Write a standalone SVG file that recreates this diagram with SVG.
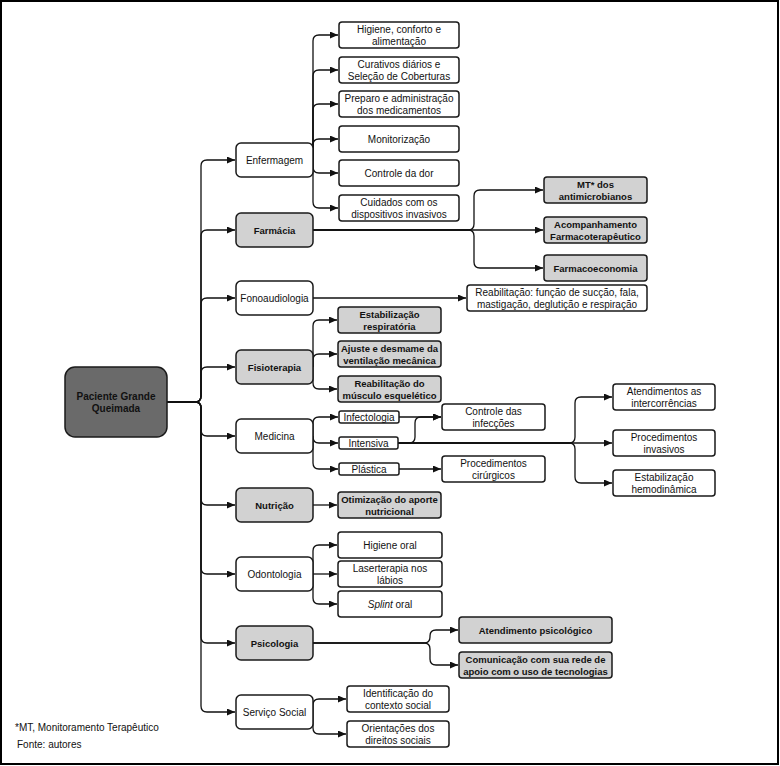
<svg xmlns="http://www.w3.org/2000/svg" width="780" height="766" viewBox="0 0 780 766">
<defs>
<marker id="ah" markerWidth="8" markerHeight="7" refX="8" refY="3.5" orient="auto" markerUnits="userSpaceOnUse">
<path d="M0,0 L8,3.5 L0,7 z" fill="#111"/>
</marker>
<style>
.w{fill:#fff;stroke:#1a1a1a;stroke-width:1.5}
.g{fill:#d2d2d2;stroke:#1a1a1a;stroke-width:1.5}
.r{fill:#6a6a6a;stroke:#1a1a1a;stroke-width:1.5}
text{font-family:"Liberation Sans",Arial,sans-serif;font-size:10px;fill:#111;text-anchor:middle}
.b{font-weight:bold;font-size:9.5px}
.rb{font-weight:bold;font-size:10px}
.l{text-anchor:start}
.c path{fill:none;stroke:#111;stroke-width:1.3;marker-end:url(#ah)}
</style>
</defs>
<rect x="0" y="0" width="780" height="766" fill="#fff"/>
<rect x="1" y="1" width="777" height="763" fill="none" stroke="#000" stroke-width="2"/>

<g id="connectors" class="c">
<!-- trunk -->
<path d="M167,402 H195 Q201,402 201,396 V166 Q201,160 207,160 H235"/>
<path d="M167,402 H195 Q201,402 201,396 V236 Q201,230 207,230 H235"/>
<path d="M167,402 H195 Q201,402 201,396 V304 Q201,298 207,298 H235"/>
<path d="M167,402 H195 Q201,402 201,396 V373 Q201,367 207,367 H235"/>
<path d="M167,402 H195 Q201,402 201,408 V430 Q201,436 207,436 H235"/>
<path d="M167,402 H195 Q201,402 201,408 V499 Q201,505 207,505 H235"/>
<path d="M167,402 H195 Q201,402 201,408 V568 Q201,574 207,574 H235"/>
<path d="M167,402 H195 Q201,402 201,408 V637 Q201,643 207,643 H235"/>
<path d="M167,402 H195 Q201,402 201,408 V706 Q201,712 207,712 H235"/>
<!-- Enfermagem -->
<path d="M313,160 V41 Q313,35 319,35 H338"/>
<path d="M313,160 V76 Q313,70 319,70 H338"/>
<path d="M313,160 V110 Q313,104 319,104 H338"/>
<path d="M313,160 V145 Q313,139 319,139 H338"/>
<path d="M313,160 V167 Q313,173 319,173 H338"/>
<path d="M313,160 V202 Q313,208 319,208 H338"/>
<!-- Farmacia -->
<path d="M313,230 H468 Q474,230 474,224 V196 Q474,190 480,190 H543"/>
<path d="M313,230 H543"/>
<path d="M313,230 H468 Q474,230 474,236 V262 Q474,268 480,268 H543"/>
<!-- Fono -->
<path d="M313,298 H466"/>
<!-- Fisio -->
<path d="M313,367 V326 Q313,320 319,320 H337"/>
<path d="M313,367 V360 Q313,354 319,354 H337"/>
<path d="M313,367 V383 Q313,389 319,389 H337"/>
<!-- Medicina -->
<path d="M313,436 V423 Q313,417 319,417 H338"/>
<path d="M313,436 V437 Q313,443 319,443 H338"/>
<path d="M313,436 V463 Q313,469 319,469 H338"/>
<path d="M399,417 H441"/>
<path d="M398,443 H409 Q415,443 415,437 V423 Q415,417 421,417 H441"/>
<path d="M398,443 H569 Q575,443 575,437 V403 Q575,397 581,397 H612"/>
<path d="M398,443 H612"/>
<path d="M398,443 H569 Q575,443 575,449 V477 Q575,483 581,483 H612"/>
<path d="M399,469 H441"/>
<!-- Nutricao -->
<path d="M313,505 H337"/>
<!-- Odontologia -->
<path d="M313,574 V551 Q313,545 319,545 H337"/>
<path d="M313,574 H337"/>
<path d="M313,574 V598 Q313,604 319,604 H337"/>
<!-- Psicologia -->
<path d="M313,643 H424 Q430,643 430,637 V636 Q430,630 436,630 H458"/>
<path d="M313,643 H424 Q430,643 430,649 V659 Q430,665 436,665 H458"/>
<!-- Servico Social -->
<path d="M313,712 V705 Q313,699 319,699 H346"/>
<path d="M313,712 V728 Q313,734 319,734 H346"/>
</g>

<g id="root"><rect class="r" x="65" y="367" width="102" height="70" rx="10"/><text class="rb" x="116" y="400">Paciente Grande</text><text class="rb" x="116" y="412">Queimada</text></g>

<g id="enfermagem"><rect class="w" x="236" y="143" width="77" height="34" rx="5"/><text x="274.5" y="163.5">Enfermagem</text></g>
<g id="farmacia"><rect class="g" x="236" y="213" width="77" height="34" rx="5"/><text class="b" x="274.5" y="233.5">Farmácia</text></g>
<g id="fonoaudiologia"><rect class="w" x="236" y="281" width="77" height="34" rx="5"/><text x="274.5" y="301.5">Fonoaudiologia</text></g>
<g id="fisioterapia"><rect class="g" x="236" y="350" width="77" height="34" rx="5"/><text class="b" x="274.5" y="370.5">Fisioterapia</text></g>
<g id="medicina"><rect class="w" x="236" y="419" width="77" height="34" rx="5"/><text x="274.5" y="439.5">Medicina</text></g>
<g id="nutricao"><rect class="g" x="236" y="488" width="77" height="34" rx="5"/><text class="b" x="274.5" y="508.5">Nutrição</text></g>
<g id="odontologia"><rect class="w" x="236" y="557" width="77" height="34" rx="5"/><text x="274.5" y="577.5">Odontologia</text></g>
<g id="psicologia"><rect class="g" x="236" y="626" width="77" height="34" rx="5"/><text class="b" x="274.5" y="646.5">Psicologia</text></g>
<g id="servico-social"><rect class="w" x="236" y="695" width="77" height="34" rx="5"/><text x="274.5" y="715.5">Serviço Social</text></g>

<g id="higiene"><rect class="w" x="339" y="22" width="120" height="26" rx="3"/><text x="399" y="33">Higiene, conforto e</text><text x="399" y="45">alimentação</text></g>
<g id="curativos"><rect class="w" x="339" y="57" width="120" height="26" rx="3"/><text x="399" y="68">Curativos diários e</text><text x="399" y="80">Seleção de Coberturas</text></g>
<g id="preparo"><rect class="w" x="339" y="91" width="120" height="26" rx="3"/><text x="399" y="102">Preparo e administração</text><text x="399" y="114">dos medicamentos</text></g>
<g id="monitorizacao"><rect class="w" x="339" y="126" width="120" height="26" rx="3"/><text x="399" y="142.5">Monitorização</text></g>
<g id="controle-dor"><rect class="w" x="339" y="160" width="120" height="26" rx="3"/><text x="399" y="176.5">Controle da dor</text></g>
<g id="cuidados"><rect class="w" x="339" y="195" width="120" height="26" rx="3"/><text x="399" y="206">Cuidados com os</text><text x="399" y="218">dispositivos invasivos</text></g>

<g id="mt-antimicrobianos"><rect class="g" x="544" y="177" width="103" height="26" rx="3"/><text class="b" x="595.5" y="188">MT* dos</text><text class="b" x="595.5" y="200">antimicrobianos</text></g>
<g id="acompanhamento"><rect class="g" x="544" y="217" width="103" height="26" rx="3"/><text class="b" x="595.5" y="228">Acompanhamento</text><text class="b" x="595.5" y="240">Farmacoterapêutico</text></g>
<g id="farmacoeconomia"><rect class="g" x="544" y="255" width="103" height="26" rx="3"/><text class="b" x="595.5" y="271.5">Farmacoeconomia</text></g>

<g id="reabilitacao-fono"><rect class="w" x="467" y="285" width="180" height="26" rx="3"/><text x="557" y="296">Reabilitação: função de sucção, fala,</text><text x="557" y="308">mastigação, deglutição e respiração</text></g>

<g id="estabilizacao-resp"><rect class="g" x="338" y="307" width="103" height="26" rx="3"/><text class="b" x="389.5" y="318">Estabilização</text><text class="b" x="389.5" y="330">respiratória</text></g>
<g id="ajuste"><rect class="g" x="338" y="341" width="103" height="26" rx="3"/><text class="b" x="389.5" y="352">Ajuste e desmame da</text><text class="b" x="389.5" y="364">ventilação mecânica</text></g>
<g id="reabilitacao-musc"><rect class="g" x="338" y="376" width="103" height="26" rx="3"/><text class="b" x="389.5" y="387">Reabilitação do</text><text class="b" x="389.5" y="399">músculo esquelético</text></g>

<g id="infectologia"><rect class="w" x="339" y="411" width="60" height="12" rx="2"/><text x="369" y="420.5">Infectologia</text></g>
<g id="intensiva"><rect class="w" x="339" y="437" width="59" height="12" rx="2"/><text x="368.5" y="446.5">Intensiva</text></g>
<g id="plastica"><rect class="w" x="339" y="463" width="60" height="12" rx="2"/><text x="369" y="472.5">Plástica</text></g>

<g id="controle-infeccoes"><rect class="w" x="442" y="404" width="103" height="26" rx="3"/><text x="493.5" y="415">Controle das</text><text x="493.5" y="427">infecções</text></g>
<g id="proc-cirurgicos"><rect class="w" x="442" y="456" width="103" height="26" rx="3"/><text x="493.5" y="467">Procedimentos</text><text x="493.5" y="479">cirúrgicos</text></g>

<g id="atendimentos"><rect class="w" x="613" y="384" width="102" height="26" rx="3"/><text x="664" y="395">Atendimentos as</text><text x="664" y="407">intercorrências</text></g>
<g id="proc-invasivos"><rect class="w" x="613" y="430" width="102" height="26" rx="3"/><text x="664" y="441">Procedimentos</text><text x="664" y="453">invasivos</text></g>
<g id="estabilizacao-hemo"><rect class="w" x="613" y="470" width="102" height="26" rx="3"/><text x="664" y="481">Estabilização</text><text x="664" y="493">hemodinâmica</text></g>

<g id="otimizacao"><rect class="g" x="338" y="492" width="103" height="26" rx="3"/><text class="b" x="389.5" y="503">Otimização do aporte</text><text class="b" x="389.5" y="515">nutricional</text></g>

<g id="higiene-oral"><rect class="w" x="338" y="532" width="104" height="26" rx="3"/><text x="390" y="548.5">Higiene oral</text></g>
<g id="laserterapia"><rect class="w" x="338" y="561" width="104" height="26" rx="3"/><text x="390" y="572">Laserterapia nos</text><text x="390" y="584">lábios</text></g>
<g id="splint"><rect class="w" x="338" y="591" width="104" height="26" rx="3"/><text x="390" y="607.5"><tspan font-style="italic">Splint</tspan> oral</text></g>

<g id="atendimento-psico"><rect class="g" x="459" y="617" width="153" height="26" rx="3"/><text class="b" x="535.5" y="633.5">Atendimento psicológico</text></g>
<g id="comunicacao"><rect class="g" x="459" y="652" width="153" height="26" rx="3"/><text class="b" x="535.5" y="663">Comunicação com sua rede de</text><text class="b" x="535.5" y="675">apoio com o uso de tecnologias</text></g>

<g id="identificacao"><rect class="w" x="347" y="686" width="102" height="26" rx="3"/><text x="398" y="697">Identificação do</text><text x="398" y="709">contexto social</text></g>
<g id="orientacoes"><rect class="w" x="347" y="721" width="102" height="26" rx="3"/><text x="398" y="732">Orientações dos</text><text x="398" y="744">direitos sociais</text></g>

<g id="notes"><text class="l" x="15" y="731">*MT, Monitoramento Terapêutico</text><text class="l" x="17" y="748">Fonte: autores</text></g>
</svg>
